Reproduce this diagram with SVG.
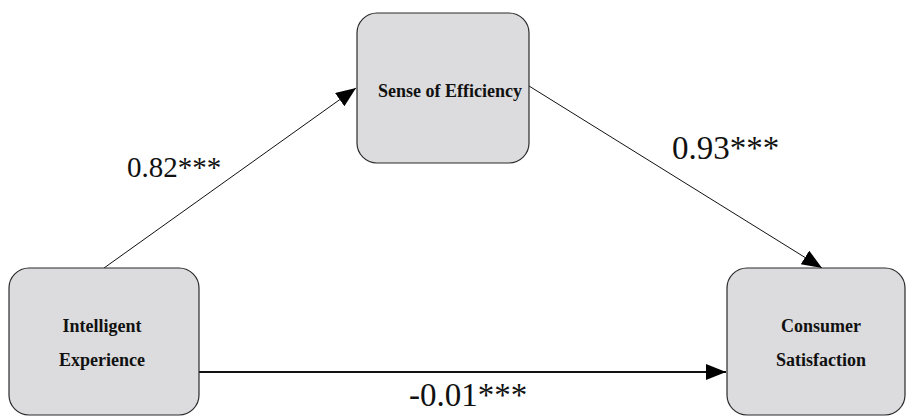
<svg xmlns="http://www.w3.org/2000/svg" width="907" height="417" viewBox="0 0 907 417">
  <style>
    .box { fill: #dcdcde; stroke: #2a2a2a; stroke-width: 1.2; }
    .node-label { font-weight: bold; font-size: 18px; fill: #111; text-anchor: middle; }
    .coef { fill: #111; }
    .edge { stroke: #111; fill: none; }
  </style>
  <defs>
    <marker id="arrow" markerUnits="userSpaceOnUse" markerWidth="22" markerHeight="18" refX="20" refY="8" orient="auto">
      <path d="M0,0 L20,8 L0,16 Z" fill="#000"/>
    </marker>
  </defs>
  <rect width="907" height="417" fill="#ffffff"/>

  <g id="connectors">
    <line class="edge" x1="104" y1="268" x2="356" y2="88" stroke-width="1" marker-end="url(#arrow)"/>
    <line class="edge" x1="529" y1="86" x2="822" y2="268" stroke-width="1" marker-end="url(#arrow)"/>
    <line class="edge" x1="199" y1="372" x2="726" y2="372" stroke-width="2.2" marker-end="url(#arrow)"/>
  </g>

  <g font-family="Liberation Serif, DejaVu Serif, serif">
    <g id="node-efficiency">
      <rect class="box" x="357" y="13" width="172" height="150" rx="20" ry="20"/>
      <text class="node-label" x="450" y="97">Sense of Efficiency</text>
    </g>

    <g id="node-experience">
      <rect class="box" x="9" y="268" width="190" height="147" rx="20" ry="20"/>
      <text class="node-label" x="102" y="332">Intelligent</text>
      <text class="node-label" x="102" y="366">Experience</text>
    </g>

    <g id="node-satisfaction">
      <rect class="box" x="727" y="268" width="178" height="147" rx="20" ry="20"/>
      <text class="node-label" x="821" y="332">Consumer</text>
      <text class="node-label" x="821" y="366">Satisfaction</text>
    </g>

    <g id="coefficients">
      <text class="coef" x="127" y="177" font-size="29">0.82***</text>
      <text class="coef" x="672" y="159" font-size="33">0.93***</text>
      <text class="coef" x="409" y="406" font-size="33">-0.01***</text>
    </g>
  </g>
</svg>
